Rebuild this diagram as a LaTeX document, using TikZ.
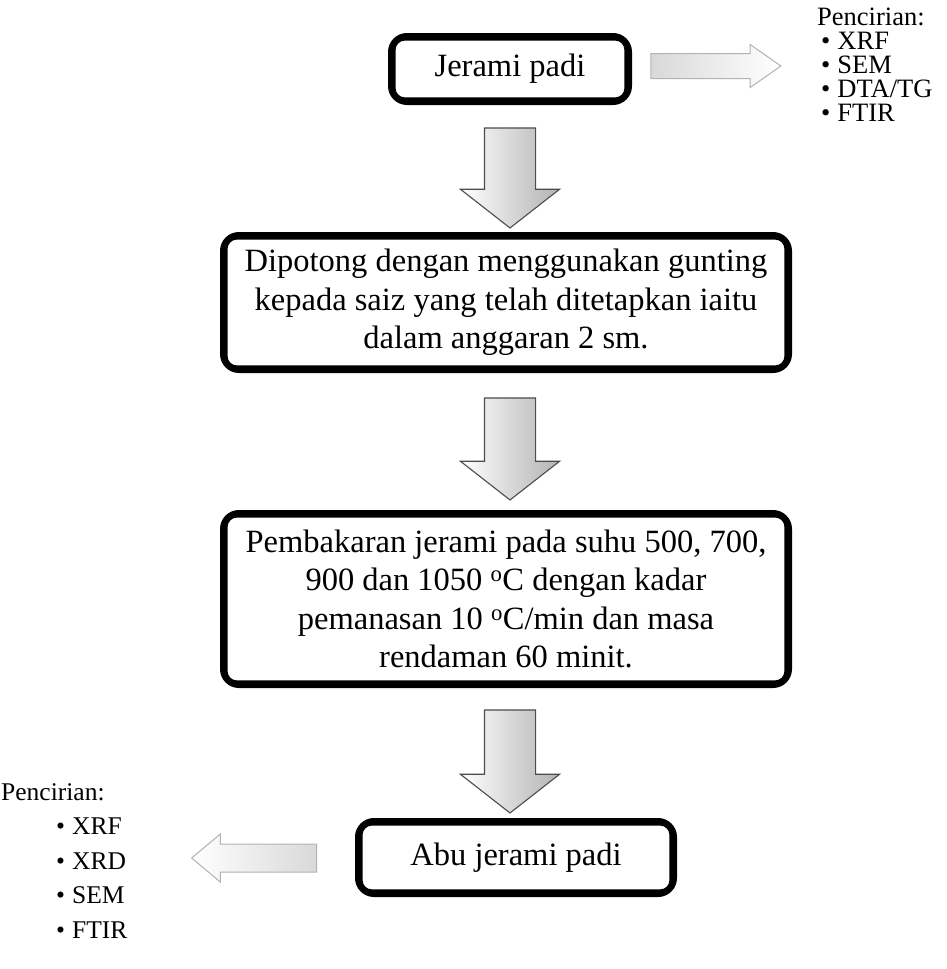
\documentclass[tikz,border=0pt]{standalone}
\usepackage{fontspec}
\setmainfont{Liberation Serif}
\usetikzlibrary{shapes.arrows}

\newcommand{\butir}[1]{\textbullet\hspace{7pt}#1}

\tikzset{
	stage/.style={draw, line width=6pt, rounded corners=16pt, align=center,
		inner sep=0pt, font=\fontsize{32.5}{38.5}\selectfont},
	stageinner/.style={line width=1.6pt, rounded corners=10pt},
	downarrow/.style={single arrow, rotate=-90, draw=black!70, line width=1.1pt,
		inner xsep=0pt, inner ysep=25pt, single arrow head extend=24pt,
		single arrow tip angle=104, left color=white, middle color=white,
		right color=gray!60},
	sidearrow/.style={single arrow, draw=gray!60, line width=1pt, inner xsep=0pt},
	ciri/.style={align=left, inner sep=0pt, anchor=north west}
}

\begin{document}
\begin{tikzpicture}[x=1pt, y=-1pt]
	\useasboundingbox (0,0) rectangle (946,969);

	% --- process boxes ---
	\node[stage, minimum width=238pt, minimum height=66pt] (jerami) at (510,69) {Jerami padi};
	\node[stage, minimum width=566pt, minimum height=135pt] (potong) at (506,302.5)
		{Dipotong dengan menggunakan gunting\\kepada saiz yang telah ditetapkan iaitu\\dalam anggaran 2 sm.};
	\node[stage, minimum width=566pt, minimum height=172pt] (bakar) at (506,599)
		{Pembakaran jerami pada suhu 500, 700,\\900 dan 1050 \textsuperscript{o}C dengan kadar\\pemanasan 10 \textsuperscript{o}C/min dan masa\\rendaman 60 minit.};
	\node[stage, minimum width=316pt, minimum height=73pt] (abu) at (516,857.5) {Abu jerami padi};

	% inner line of the double frames
	\foreach \n in {jerami, potong, bakar, abu}
		\draw[stageinner] ([shift={(6.8pt,-6.8pt)}]\n.north west) rectangle ([shift={(-6.8pt,6.8pt)}]\n.south east);

	% --- block arrows between the steps ---
	\node[downarrow, minimum height=100pt] (a1) at (510,168) {};
	\node[downarrow, minimum height=102pt] (a2) at (510,439) {};
	\node[downarrow, minimum height=103pt] (a3) at (510,751.5) {};

	% --- side arrows to the characterisation lists ---
	\node[sidearrow, minimum height=130pt, inner ysep=12pt, single arrow head extend=9pt,
		single arrow tip angle=70, left color=gray!30, right color=white] (akanan) at (707,66) {};
	\node[sidearrow, rotate=180, minimum height=125pt, inner ysep=13.5pt,
		single arrow head extend=10pt, single arrow tip angle=80,
		left color=white, right color=gray!30] (akiri) at (262.5,858) {};

	% --- characterisation lists ---
	\node[ciri, font=\fontsize{26.5}{24}\selectfont] (cirikanan) at (817,8)
		{Pencirian:\\\hspace*{4pt}\butir{XRF}\\\hspace*{4pt}\butir{SEM}\\\hspace*{4pt}\butir{DTA/TG}\\\hspace*{4pt}\butir{FTIR}};
	\node[ciri, font=\fontsize{25.5}{34.5}\selectfont] (cirikiri) at (1,783)
		{Pencirian:\\\hspace*{55pt}\butir{XRF}\\\hspace*{55pt}\butir{XRD}\\\hspace*{55pt}\butir{SEM}\\\hspace*{55pt}\butir{FTIR}};
\end{tikzpicture}
\end{document}
